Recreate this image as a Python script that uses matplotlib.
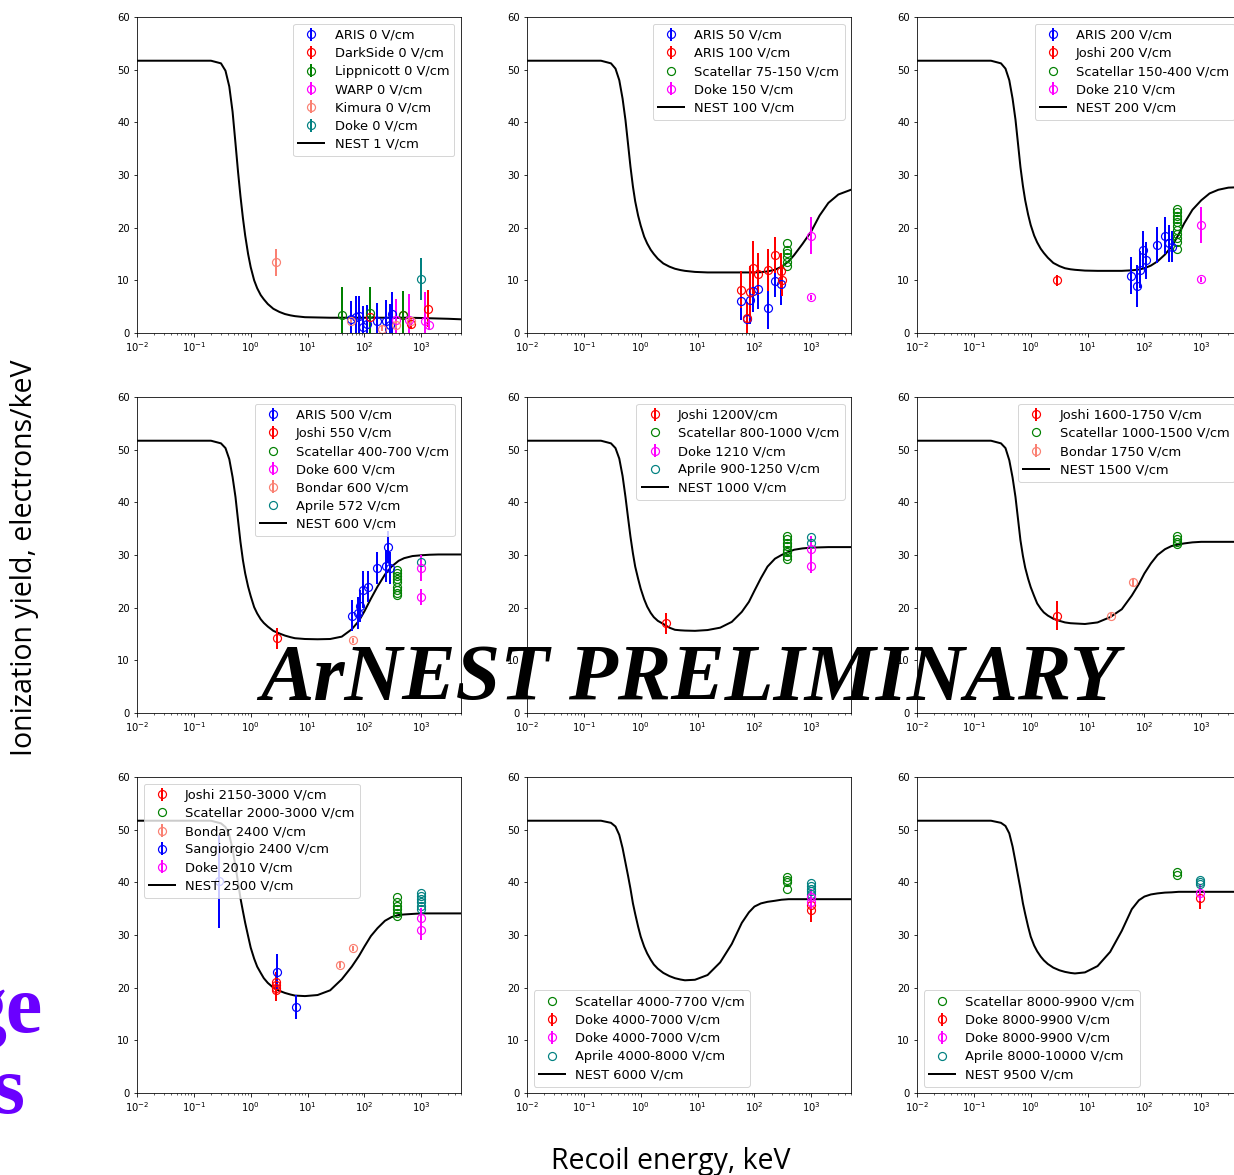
import matplotlib
matplotlib.use('Agg')
import matplotlib.pyplot as plt

nest_e = [0.01, 0.2, 0.3, 0.36, 0.42, 0.48, 0.54, 0.6, 0.66, 0.73, 0.8, 0.9, 1.0, 1.15,
          1.3, 1.5, 1.7, 2.0, 2.5, 3.2, 4, 5, 6, 9, 15, 25, 40, 60, 80, 100, 130, 170,
          230, 300, 400, 500, 700, 1000, 1400, 2000, 3000, 5000]
nest_1 = [51.7, 51.7, 51.2, 49.8, 46.8, 42.0, 36.0, 30.5, 26.0, 21.8, 18.5, 15.0, 12.5, 10.0,
          8.5, 7.2, 6.4, 5.5, 4.6, 4.0, 3.6, 3.35, 3.2, 3.0, 2.95, 2.9, 2.9, 2.9, 2.9, 2.9,
          2.9, 2.9, 2.9, 2.9, 2.9, 2.9, 2.88, 2.85, 2.8, 2.75, 2.7, 2.6]
nest_100 = [51.7, 51.7, 51.2, 50.2, 48.0, 44.5, 40.4, 35.8, 31.6, 27.8, 25.0, 22.3, 20.4, 18.3,
            17.0, 15.8, 15.0, 14.1, 13.2, 12.6, 12.2, 11.95, 11.8, 11.6, 11.5, 11.5, 11.5,
            11.5, 11.5, 11.5, 11.55, 11.7, 12.0, 12.6, 13.6, 14.8, 16.9, 19.3, 22.3, 24.7,
            26.3, 27.2]
nest_200 = [51.7, 51.7, 51.2, 50.2, 48.0, 44.5, 40.5, 35.8, 31.5, 27.9, 25.2, 22.5, 20.5, 18.5,
            17.2, 16.0, 15.2, 14.3, 13.3, 12.7, 12.3, 12.1, 12.0, 11.85, 11.8, 11.8, 11.8,
            11.9, 12.05, 12.3, 12.8, 13.6, 14.9, 16.4, 18.7, 20.8, 23.4, 25.2, 26.5, 27.2,
            27.6, 27.7]
nest_600 = [51.7, 51.7, 51.2, 50.3, 48.2, 44.8, 41.0, 36.5, 32.5, 29.0, 26.5, 24.0, 22.2, 20.1,
            18.9, 17.8, 17.1, 16.4, 15.6, 15.1, 14.7, 14.4, 14.2, 14.05, 14.0, 14.05, 14.5,
            15.9, 17.5, 19.3, 21.7, 24.0, 26.3, 27.8, 28.9, 29.4, 29.8, 29.95, 30.05, 30.1,
            30.1, 30.1]
nest_1000 = [51.7, 51.7, 51.2, 50.3, 48.3, 45.0, 41.0, 37.0, 33.5, 30.3, 27.8, 25.5, 23.6, 21.6,
             20.2, 19.0, 18.2, 17.5, 16.9, 16.2, 15.8, 15.7, 15.65, 15.6, 15.75, 16.2, 17.3,
             19.2, 21.1, 23.2, 25.6, 27.8, 29.3, 30.0, 30.6, 31.0, 31.25, 31.4, 31.45, 31.5,
             31.5, 31.5]
nest_1500 = [51.7, 51.7, 51.2, 50.3, 48.0, 44.7, 41.0, 36.7, 32.8, 29.8, 27.6, 25.5, 23.9, 22.2,
             20.8, 19.8, 19.1, 18.5, 17.9, 17.5, 17.2, 17.05, 17.0, 16.9, 17.2, 18.2, 19.7,
             22.3, 24.5, 26.5, 28.4, 30.0, 31.1, 31.7, 32.0, 32.2, 32.4, 32.5, 32.5, 32.5,
             32.5, 32.5]
nest_2500 = [51.7, 51.7, 51.2, 50.5, 49.0, 46.3, 43.0, 40.0, 37.0, 34.5, 32.3, 29.8, 27.6, 25.5,
             24.0, 22.8, 21.8, 20.9, 20.0, 19.4, 19.0, 18.7, 18.5, 18.4, 18.6, 19.5, 21.6,
             24.0, 26.0, 27.8, 29.8, 31.3, 32.7, 33.4, 33.8, 33.9, 34.0, 34.1, 34.1, 34.1,
             34.1, 34.1]
nest_6000 = [51.7, 51.7, 51.3, 50.6, 49.0, 46.5, 43.7, 41.2, 38.8, 36.0, 34.0, 31.6, 29.7, 27.8,
             26.5, 25.3, 24.4, 23.6, 22.8, 22.2, 21.8, 21.55, 21.4, 21.5, 22.4, 24.8, 28.3,
             32.3, 34.3, 35.4, 36.0, 36.3, 36.5, 36.7, 36.8, 36.8, 36.8, 36.8, 36.8, 36.8,
             36.8, 36.8]
nest_9500 = [51.7, 51.7, 51.3, 50.7, 49.3, 46.8, 43.9, 41.2, 38.8, 36.0, 34.0, 31.6, 29.7, 28.0,
             26.9, 25.9, 25.2, 24.5, 23.8, 23.3, 23.0, 22.8, 22.7, 22.9, 24.1, 26.8, 30.8,
             34.9, 36.6, 37.3, 37.7, 37.9, 38.05, 38.1, 38.2, 38.2, 38.2, 38.2, 38.2, 38.2,
             38.2, 38.2]

# measurements: energy (keV), yield, error
aris0_e = [58, 72, 80, 95, 110, 165, 240, 280, 300]
aris0_y = [2.6, 3.0, 3.3, 1.2, 1.8, 2.2, 2.2, 1.5, 3.7]
aris0_err = [3.5, 4.0, 3.8, 4.0, 3.5, 3.5, 4.0, 4.0, 4.0]
darkside0_e = [125, 480, 650, 1300]
darkside0_y = [3.1, 3.4, 1.8, 4.6]
darkside0_err = [1.5, 1.2, 1.0, 3.5]
lipp0_e = [41, 125, 480]
lipp0_y = [3.5, 3.8, 3.5]
lipp0_err = [5.3, 5.0, 4.5]
warp0_e = [360, 620, 1150, 1350]
warp0_y = [2.5, 2.5, 2.3, 1.5]
warp0_err = [4.0, 5.0, 5.5, 1.0]
kimura0_e = [2.8, 58, 200, 360, 650]
kimura0_y = [13.4, 2.2, 0.8, 1.5, 2.2]
kimura0_err = [2.5, 0.5, 0.5, 0.5, 0.5]
doke0_e = [1000]
doke0_y = [10.2]
doke0_err = [4.0]

aris50_e = [59, 75, 84, 95, 114, 176, 230, 290]
aris50_y = [6.0, 2.7, 6.3, 7.9, 8.3, 4.7, 9.8, 9.3]
aris50_err = [3.5, 2.5, 4.5, 4.0, 3.8, 4.0, 3.0, 4.0]
aris100_e = [59, 75, 84, 93, 114, 170, 230, 290, 310]
aris100_y = [8.2, 2.8, 7.8, 12.4, 11.2, 11.9, 14.8, 11.7, 10.0]
aris100_err = [3.5, 3.0, 5.0, 5.0, 4.0, 4.0, 3.5, 3.5, 3.0]
scat75_e = [370, 370, 370, 370, 370, 370]
scat75_y = [17.1, 15.8, 15.2, 14.5, 13.5, 12.7]
doke150_e = [1000, 1000]
doke150_y = [18.5, 6.8]
doke150_err = [3.5, 0.5]

aris200_e = [59, 73, 84, 95, 105, 165, 230, 275, 310]
aris200_y = [10.9, 9.0, 12.0, 15.8, 13.8, 16.7, 18.5, 17.0, 16.4]
aris200_err = [3.5, 4.0, 3.5, 3.5, 3.5, 3.5, 3.5, 3.5, 3.0]
joshi200_e = [2.9]
joshi200_y = [10.0]
joshi200_err = [1.0]
scat150_e = [370] * 11
scat150_y = [23.5, 23.0, 22.3, 21.7, 21.0, 20.3, 19.5, 18.8, 18.0, 17.2, 16.0]
doke210_e = [980, 980]
doke210_y = [20.5, 10.2]
doke210_err = [3.5, 0.5]

aris500_e = [61, 77, 85, 95, 116, 165, 235, 260, 280]
aris500_y = [18.5, 19.0, 20.3, 23.4, 24.0, 27.5, 27.9, 31.5, 27.5]
aris500_err = [3.0, 3.0, 3.0, 3.5, 3.0, 3.0, 3.0, 3.0, 3.0]
joshi550_e = [2.9]
joshi550_y = [14.2]
joshi550_err = [2.0]
scat400_e = [370] * 9
scat400_y = [27.2, 26.6, 26.0, 25.4, 24.8, 24.0, 23.4, 22.8, 22.4]
doke600_e = [1000, 1000]
doke600_y = [27.5, 22.0]
doke600_err = [2.5, 1.5]
bondar600_e = [63]
bondar600_y = [13.8]
bondar600_err = [0.5]
aprile572_e = [1000]
aprile572_y = [28.7]

joshi1200_e = [2.8]
joshi1200_y = [17.0]
joshi1200_err = [2.0]
scat800_e = [370] * 8
scat800_y = [33.6, 33.0, 32.3, 31.7, 31.0, 30.5, 29.9, 29.3]
doke1210_e = [1000, 1000]
doke1210_y = [31.2, 28.0]
doke1210_err = [2.5, 1.5]
aprile900_e = [1000, 1000]
aprile900_y = [33.4, 32.2]

joshi1600_e = [2.9]
joshi1600_y = [18.5]
joshi1600_err = [2.8]
scat1000_e = [370] * 4
scat1000_y = [33.6, 33.1, 32.5, 32.0]
bondar1750_e = [26, 63]
bondar1750_y = [18.5, 24.8]
bondar1750_err = [0.5, 0.6]

joshi2150_e = [2.8] * 4
joshi2150_y = [21.0, 20.5, 20.0, 19.5]
joshi2150_err = [2.0] * 4
scat2000_e = [370] * 6
scat2000_y = [37.3, 36.3, 35.6, 35.0, 34.2, 33.7]
bondar2400_e = [37, 63]
bondar2400_y = [24.3, 27.5]
bondar2400_err = [0.5, 0.5]
sang2400_e = [0.28, 2.9, 6.3]
sang2400_y = [40.2, 23.0, 16.3]
sang2400_err = [8.8, 3.3, 2.3]
doke2010_e = [1000, 1000]
doke2010_y = [33.2, 31.0]
doke2010_err = [2.0, 2.0]
aprile2500_e = [1000] * 6
aprile2500_y = [38.0, 37.4, 36.8, 36.2, 35.6, 35.0]

scat4000_e = [370] * 4
scat4000_y = [41.0, 40.5, 40.0, 38.8]
doke4000r_e = [1000, 1000]
doke4000r_y = [34.7, 35.7]
doke4000r_err = [2.3, 1.5]
doke4000m_e = [1000, 1000]
doke4000m_y = [36.3, 37.3]
doke4000m_err = [1.5, 1.5]
aprile4000_e = [1000] * 5
aprile4000_y = [39.8, 39.3, 38.8, 38.3, 37.8]

scat8000_e = [370, 370]
scat8000_y = [42.0, 41.3]
doke8000r_e = [950]
doke8000r_y = [37.0]
doke8000r_err = [2.0]
doke8000m_e = [950]
doke8000m_y = [37.9]
doke8000m_err = [1.5]
aprile8000_e = [950] * 3
aprile8000_y = [40.5, 40.0, 39.6]


def errpts(ax, e, y, err, c, label):
    return ax.errorbar(e, y, yerr=err, fmt='o', mfc='none', color=c, ms=8,
                       mew=1.2, elinewidth=2, label=label)


def pts(ax, e, y, c, label):
    return ax.plot(e, y, 'o', mfc='none', color=c, ms=8, mew=1.2, label=label)[0]


def nest(ax, y, label):
    return ax.plot(nest_e, y, color='k', lw=2, label=label)[0]


def leg(ax, h, loc):
    ax.legend(handles=h, loc=loc, fontsize=13, labelspacing=0.4)


fig = plt.figure(figsize=(1234 / 72, 1175 / 72), dpi=72)
W, H = 1234, 1175
lefts = [137, 527, 917]
tops = [17, 397, 777]
axes = []
for top in tops:
    for left in lefts:
        ax = fig.add_axes([left / W, (H - top - 316) / H, 324 / W, 316 / H])
        ax.set_xscale('log')
        ax.set_xlim(0.01, 5000)
        ax.set_ylim(0, 60)
        axes.append(ax)

# 0 V/cm
ax = axes[0]
hl = nest(ax, nest_1, 'NEST 1 V/cm')
h = [errpts(ax, aris0_e, aris0_y, aris0_err, 'blue', 'ARIS 0 V/cm'),
     errpts(ax, darkside0_e, darkside0_y, darkside0_err, 'red', 'DarkSide 0 V/cm'),
     errpts(ax, lipp0_e, lipp0_y, lipp0_err, 'green', 'Lippnicott 0 V/cm'),
     errpts(ax, warp0_e, warp0_y, warp0_err, 'magenta', 'WARP 0 V/cm'),
     errpts(ax, kimura0_e, kimura0_y, kimura0_err, 'salmon', 'Kimura 0 V/cm'),
     errpts(ax, doke0_e, doke0_y, doke0_err, 'teal', 'Doke 0 V/cm'), hl]
leg(ax, h, 'upper right')

# 100 V/cm
ax = axes[1]
hl = nest(ax, nest_100, 'NEST 100 V/cm')
h = [errpts(ax, aris50_e, aris50_y, aris50_err, 'blue', 'ARIS 50 V/cm'),
     errpts(ax, aris100_e, aris100_y, aris100_err, 'red', 'ARIS 100 V/cm'),
     pts(ax, scat75_e, scat75_y, 'green', 'Scatellar 75-150 V/cm'),
     errpts(ax, doke150_e, doke150_y, doke150_err, 'magenta', 'Doke 150 V/cm'), hl]
leg(ax, h, 'upper right')

# 200 V/cm
ax = axes[2]
hl = nest(ax, nest_200, 'NEST 200 V/cm')
h = [errpts(ax, aris200_e, aris200_y, aris200_err, 'blue', 'ARIS 200 V/cm'),
     errpts(ax, joshi200_e, joshi200_y, joshi200_err, 'red', 'Joshi 200 V/cm'),
     pts(ax, scat150_e, scat150_y, 'green', 'Scatellar 150-400 V/cm'),
     errpts(ax, doke210_e, doke210_y, doke210_err, 'magenta', 'Doke 210 V/cm'), hl]
leg(ax, h, 'upper right')

# 600 V/cm
ax = axes[3]
hl = nest(ax, nest_600, 'NEST 600 V/cm')
h = [errpts(ax, aris500_e, aris500_y, aris500_err, 'blue', 'ARIS 500 V/cm'),
     errpts(ax, joshi550_e, joshi550_y, joshi550_err, 'red', 'Joshi 550 V/cm'),
     pts(ax, scat400_e, scat400_y, 'green', 'Scatellar 400-700 V/cm'),
     errpts(ax, doke600_e, doke600_y, doke600_err, 'magenta', 'Doke 600 V/cm'),
     errpts(ax, bondar600_e, bondar600_y, bondar600_err, 'salmon', 'Bondar 600 V/cm'),
     pts(ax, aprile572_e, aprile572_y, 'teal', 'Aprile 572 V/cm'), hl]
leg(ax, h, 'upper right')

# 1000 V/cm
ax = axes[4]
hl = nest(ax, nest_1000, 'NEST 1000 V/cm')
h = [errpts(ax, joshi1200_e, joshi1200_y, joshi1200_err, 'red', 'Joshi 1200V/cm'),
     pts(ax, scat800_e, scat800_y, 'green', 'Scatellar 800-1000 V/cm'),
     errpts(ax, doke1210_e, doke1210_y, doke1210_err, 'magenta', 'Doke 1210 V/cm'),
     pts(ax, aprile900_e, aprile900_y, 'teal', 'Aprile 900-1250 V/cm'), hl]
leg(ax, h, 'upper right')

# 1500 V/cm
ax = axes[5]
hl = nest(ax, nest_1500, 'NEST 1500 V/cm')
h = [errpts(ax, joshi1600_e, joshi1600_y, joshi1600_err, 'red', 'Joshi 1600-1750 V/cm'),
     pts(ax, scat1000_e, scat1000_y, 'green', 'Scatellar 1000-1500 V/cm'),
     errpts(ax, bondar1750_e, bondar1750_y, bondar1750_err, 'salmon', 'Bondar 1750 V/cm'), hl]
leg(ax, h, 'upper right')

# 2500 V/cm
ax = axes[6]
hl = nest(ax, nest_2500, 'NEST 2500 V/cm')
pts(ax, aprile2500_e, aprile2500_y, 'teal', None)
h = [errpts(ax, joshi2150_e, joshi2150_y, joshi2150_err, 'red', 'Joshi 2150-3000 V/cm'),
     pts(ax, scat2000_e, scat2000_y, 'green', 'Scatellar 2000-3000 V/cm'),
     errpts(ax, bondar2400_e, bondar2400_y, bondar2400_err, 'salmon', 'Bondar 2400 V/cm'),
     errpts(ax, sang2400_e, sang2400_y, sang2400_err, 'blue', 'Sangiorgio 2400 V/cm'),
     errpts(ax, doke2010_e, doke2010_y, doke2010_err, 'magenta', 'Doke 2010 V/cm'), hl]
leg(ax, h, 'upper left')

# 6000 V/cm
ax = axes[7]
hl = nest(ax, nest_6000, 'NEST 6000 V/cm')
h = [pts(ax, scat4000_e, scat4000_y, 'green', 'Scatellar 4000-7700 V/cm'),
     errpts(ax, doke4000r_e, doke4000r_y, doke4000r_err, 'red', 'Doke 4000-7000 V/cm'),
     errpts(ax, doke4000m_e, doke4000m_y, doke4000m_err, 'magenta', 'Doke 4000-7000 V/cm'),
     pts(ax, aprile4000_e, aprile4000_y, 'teal', 'Aprile 4000-8000 V/cm'), hl]
leg(ax, h, 'lower left')

# 9500 V/cm
ax = axes[8]
hl = nest(ax, nest_9500, 'NEST 9500 V/cm')
h = [pts(ax, scat8000_e, scat8000_y, 'green', 'Scatellar 8000-9900 V/cm'),
     errpts(ax, doke8000r_e, doke8000r_y, doke8000r_err, 'red', 'Doke 8000-9900 V/cm'),
     errpts(ax, doke8000m_e, doke8000m_y, doke8000m_err, 'magenta', 'Doke 8000-9900 V/cm'),
     pts(ax, aprile8000_e, aprile8000_y, 'teal', 'Aprile 8000-10000 V/cm'), hl]
leg(ax, h, 'lower left')

fig.text(25 / W, 1 - 558 / H, 'Ionization yield, electrons/keV', rotation=90,
         ha='center', va='center', fontsize=28.5, family='Open Sans')
fig.text(671 / W, 1 - 1161 / H, 'Recoil energy, keV', ha='center', va='center',
         fontsize=28.5, family='Open Sans')

fig.text(690 / W, 1 - 680 / H, 'ArNEST PRELIMINARY', ha='center', va='center',
         fontsize=80, family='Liberation Serif', weight='bold', style='italic')

fig.text(43 / W, 1 - 1032 / H, 'ge', ha='right', va='baseline', fontsize=82,
         family='Liberation Serif', weight='bold', color='#6a00ff')
fig.text(24 / W, 1 - 1113 / H, 's', ha='right', va='baseline', fontsize=82,
         family='Liberation Serif', weight='bold', color='#6a00ff')

fig.savefig('out.png', dpi=72)
